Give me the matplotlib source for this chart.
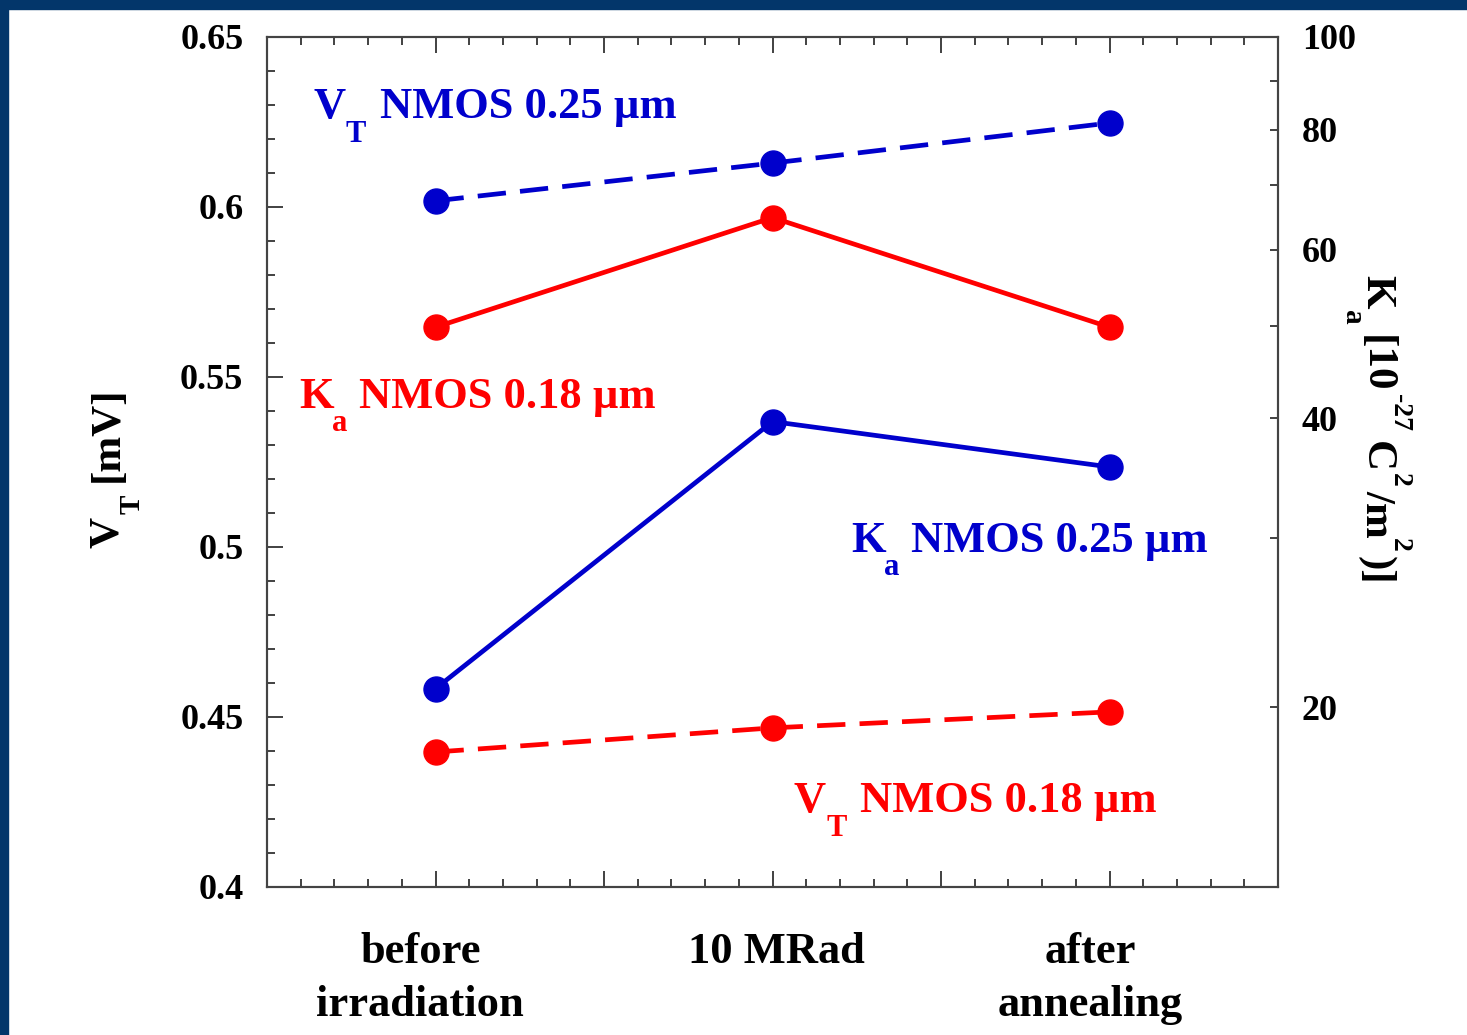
import numpy as np
import matplotlib
matplotlib.use('Agg')
import matplotlib.pyplot as plt
from matplotlib.patches import Rectangle
from matplotlib.ticker import MultipleLocator, FixedLocator, NullFormatter, NullLocator, FuncFormatter
import matplotlib.transforms as mtransforms

#fuente tipo Times en negrita para todo
plt.rcParams['font.family'] = ['Liberation Serif', 'DejaVu Serif']
plt.rcParams['font.weight'] = 'bold'

#datos
categorias = ['before\nirradiation', '10 MRad', 'after\nannealing']
vt_025 = [0.6018, 0.6129, 0.6247]      # eje izquierdo, azul discontinuo
vt_018 = [0.4397, 0.4468, 0.4515]      # eje izquierdo, rojo discontinuo
ka_025 = [20.9, 39.7, 35.6]            # eje derecho (log), azul continuo
ka_018 = [49.8, 64.8, 49.8]            # eje derecho (log), rojo continuo
ka_ticks = [20, 30, 40, 50, 60, 70, 80, 90, 100]
ka_etiquetas = [20, 40, 60, 80, 100]

azul = '#0000cc'
rojo = '#ff0000'
x = np.arange(len(categorias))

W, H = 1467, 1035
fig = plt.figure(figsize=(W / 100, H / 100), dpi=100)
ax1 = fig.add_axes([0.182, 0.143, 0.6892, 0.8213])
ax2 = ax1.twinx()

#series del eje izquierdo
ax1.plot(x, vt_025, color=azul, lw=3.4, dashes=(6, 3), marker='o', ms=18, zorder=3)
ax1.plot(x, vt_018, color=rojo, lw=3.4, dashes=(6, 3), marker='o', ms=18, zorder=3)

#series del eje derecho
ax2.plot(x, ka_025, color=azul, lw=3.4, marker='o', ms=18)
ax2.plot(x, ka_018, color=rojo, lw=3.4, marker='o', ms=18)

ax1.set_xlim(-0.5, 2.5)
ax1.set_ylim(0.4, 0.65)
ax2.set_yscale('log')
ax2.set_ylim(12.98, 100)

#ticks
ax1.xaxis.set_major_locator(MultipleLocator(0.5))
ax1.xaxis.set_minor_locator(MultipleLocator(0.1))
ax1.xaxis.set_major_formatter(NullFormatter())
ax1.yaxis.set_major_locator(MultipleLocator(0.05))
ax1.yaxis.set_minor_locator(MultipleLocator(0.01))
ax1.yaxis.set_major_formatter(FuncFormatter(lambda v, p: ('%.2f' % v).rstrip('0')))

ax1.tick_params(axis='x', which='both', direction='in', top=True, bottom=True, colors='#333333')
ax1.tick_params(axis='y', which='both', direction='in', left=True, right=False, colors='#333333',
                labelcolor='black', labelsize=26, pad=17)
ax1.tick_params(which='major', length=11.5, width=1.3)
ax1.tick_params(which='minor', length=5.8, width=1.3)

#eje derecho logaritmico
ax2.yaxis.set_major_locator(FixedLocator(ka_ticks))
ax2.yaxis.set_minor_locator(NullLocator())
ax2.yaxis.set_major_formatter(FuncFormatter(
    lambda v, p: '%d' % round(v) if round(v) in ka_etiquetas else ''))
ax2.tick_params(axis='y', which='both', direction='in', length=5.8, width=1.3, colors='#333333',
                labelcolor='black', labelsize=26, pad=17)

for ax in (ax1, ax2):
    for s in ax.spines.values():
        s.set_color('#444444')
        s.set_linewidth(1.5)

#etiquetas de categorias
trans = mtransforms.blended_transform_factory(ax1.transData, ax1.transAxes)
desplaz = [-0.045, 0.01, -0.058]
for xi, cat, d in zip(x, categorias, desplaz):
    ax1.text(xi + d, -0.053, cat, transform=trans, ha='center', va='top',
             fontsize=32, fontweight='bold', linespacing=1.42)

#texto con subindices/superindices bajados o subidos a mano, como en el original
renderer = fig.canvas.get_renderer()

def texto_rico(x0, y0, trozos, rot=0, color='black'):
    #x0, y0 en pixeles de la imagen (y hacia abajo); trozos = (texto, tamano, desplazamiento, hueco)
    ang = np.deg2rad(rot)
    avance = np.array([np.cos(ang), np.sin(ang)])
    arriba = np.array([-np.sin(ang), np.cos(ang)])
    origen = np.array([x0, H - y0])
    pos = 0.0
    for txt, size, shift, hueco in trozos:
        p = origen + avance * pos + arriba * shift
        fig.text(p[0] / W, p[1] / H, txt, fontsize=size, color=color, rotation=rot,
                 rotation_mode='anchor', ha='left', va='baseline')
        tmp = fig.text(0, 0, txt, fontsize=size)
        pos += tmp.get_window_extent(renderer).width + hueco
        tmp.remove()

#titulos de los ejes
texto_rico(118, 548, [('V', 31, 0, 3), ('T', 21, -22, 12), ('[mV]', 31, 0, 0)], rot=90)
texto_rico(1366, 275, [('K', 31, 0, 2), ('a', 21, -21, 10), ('[10', 31, 0, 1), ('-27', 20, 27, 10),
                       ('C', 31, 0, 1), ('2', 20, 27, 3), ('/m', 31, 0, 1), ('2', 20, 27, 4),
                       (')]', 31, 0, 0)], rot=270)

#rotulos de las series
texto_rico(313, 118, [('V', 32, 0, 0), ('T', 22, -24, 14), ('NMOS 0.25 µm', 32, 0, 0)], color=azul)
texto_rico(299, 408, [('K', 32, 0, -2), ('a', 22, -23, 12), ('NMOS 0.18 µm', 32, 0, 0)], color=rojo)
texto_rico(851, 552, [('K', 32, 0, -2), ('a', 22, -23, 12), ('NMOS 0.25 µm', 32, 0, 0)], color=azul)
texto_rico(794, 812, [('V', 32, 0, 0), ('T', 22, -24, 14), ('NMOS 0.18 µm', 32, 0, 0)], color=rojo)

#marco azul oscuro de la diapositiva
fig.patches.append(Rectangle((0, 0), 8 / W, 1, transform=fig.transFigure, color='#03366a', zorder=10))
fig.patches.append(Rectangle((0, 1 - 9 / H), 1, 9 / H, transform=fig.transFigure, color='#03366a', zorder=10))

fig.savefig('out.png', dpi=100)
